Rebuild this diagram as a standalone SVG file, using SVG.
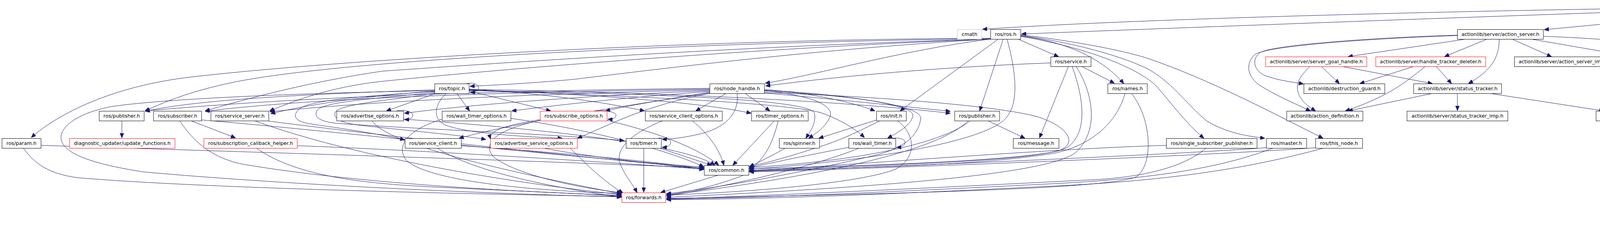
<svg xmlns="http://www.w3.org/2000/svg" width="5883" height="581" viewBox="0 0 5883 581">
<style>
.n rect{fill:#fff;stroke:#000;stroke-width:1}
.n.r rect{stroke:#f00}
.n.g rect{stroke:#bfbfbf}
.n.root rect{fill:#bfbfbf}
.n text{font-family:"DejaVu Sans","Liberation Sans",sans-serif;font-size:12.7px;text-anchor:middle;fill:#000}
#edges path{fill:none;stroke:#191970;stroke-width:1;marker-end:url(#a)}
</style>
<defs>
<marker id="a" markerUnits="userSpaceOnUse" markerWidth="12" markerHeight="10" viewBox="0 0 12 10" refX="12" refY="5" orient="auto">
<path d="M0,0 L12,5 L0,10 z" fill="#191970" stroke="#191970" stroke-width="1"/>
</marker>
</defs>
<rect width="5883" height="581" fill="#fff"/>
<g id="edges">
<path d="M4448,18 C3900,24 2950,45 2515,75"/>
<path d="M4448,21 C3900,38 3000,72 2615,87"/>
<path d="M4448,29 L3953,76"/>
<path d="M4559,31.5 L4559,74"/>
<path d="M4620,31.5 L4830,75"/>
<path d="M4671,30 C4800,42 5000,62 5112,75"/>
<path d="M4671,25 L5409,75"/>
<path d="M4559,100.5 L4559,144"/>
<path d="M4888,100.5 L4900,144"/>
<path d="M4963,100.5 L5232,144"/>
<path d="M5037,100.5 L5553,144"/>
<path d="M3750,100.5 L3451,145"/>
<path d="M3806,100.5 L3698,145"/>
<path d="M3838,100.5 C3838,150 3815,182 3759,214"/>
<path d="M3872,100.5 L3972,145"/>
<path d="M3922,100.5 L4180,145"/>
<path d="M3951,93 C4150,100 4330,120 4360,140 C4390,162 4392,200 4360,220 C4320,245 4270,265 4226,284"/>
<path d="M3731,90 C3520,96 3255,115 3225,135 C3203,152 3210,182 3240,194 C3272,206 3310,210 3337,215"/>
<path d="M3731,91 C3520,98 3240,117 3212,140 C3188,162 3192,197 3226,219 C3262,242 3312,264 3355,284"/>
<path d="M3353,170.5 C3328,195 3318,212 3322,232 C3327,255 3345,270 3368,284"/>
<path d="M3383,170.5 L3429,214"/>
<path d="M3438,170.5 L3667,214"/>
<path d="M3618,170.5 L3481,214"/>
<path d="M3648,170.5 C3605,205 3560,245 3444,284"/>
<path d="M3677,170.5 L3716,214"/>
<path d="M3665,239.5 L3451,284"/>
<path d="M3731,239.5 L3731,283"/>
<path d="M3817,239.5 L4106,284"/>
<path d="M4188,309.5 L4188,353"/>
<path d="M2536,98 C1800,100 900,150 490,197 C290,220 150,290 80,352"/>
<path d="M2536,99 C1800,108 900,150 600,210 C480,235 420,262 371,284"/>
<path d="M2536,100 C1900,118 1300,160 980,182 C800,208 640,250 525,284"/>
<path d="M2536,100 C2000,120 1350,170 980,208 C850,222 760,255 690,284"/>
<path d="M2536,100 C2100,125 1700,175 1470,203 C1350,214 1260,218 1203,221"/>
<path d="M2536,100 C2300,130 2100,190 1959,213"/>
<path d="M2555,100.5 L2304,284"/>
<path d="M2568,100.5 L2508,284"/>
<path d="M2578,100.5 C2600,180 2610,260 2577,300 C2530,360 2250,410 1918,433"/>
<path d="M2607,100.5 L2710,145"/>
<path d="M2613,92 C2750,110 2830,160 2877,214"/>
<path d="M2613,89 C2750,105 2880,130 2940,150 C3100,205 3260,290 3387,354"/>
<path d="M2613,91 C2760,110 2890,150 2945,180 C3010,220 3040,270 3090,310 C3140,340 3190,348 3238,354"/>
<path d="M2613,93 C2800,125 2920,180 2960,220 C3000,265 3035,315 3082,354"/>
<path d="M2690,161 C2400,172 2150,195 1960,220"/>
<path d="M2770,170.5 L2853,213"/>
<path d="M2735,170.5 L2661,353"/>
<path d="M2745,170.5 C2770,240 2790,335 2733,377 C2660,415 2250,422 1918,436"/>
<path d="M2755,170.5 C2800,240 2815,340 2750,393 C2680,440 2350,475 1706,505"/>
<path d="M2880,239.5 C2860,310 2800,370 2700,392 C2500,425 2200,428 1918,437"/>
<path d="M2897,239.5 C2945,300 2955,410 2913,450 C2870,482 2350,495 1706,508"/>
<path d="M2530,309.5 L2624,354"/>
<path d="M2483,309.5 C2440,345 2300,405 1918,429"/>
<path d="M2478,309.5 C2435,352 2300,425 1706,500"/>
<path d="M2244,307 L2096,354"/>
<path d="M2252,309.5 C2200,335 2160,356 2100,375 C2030,398 1960,418 1918,426"/>
<path d="M2298,309.5 C2340,340 2352,400 2293,433 C2200,470 1900,493 1706,499"/>
<path d="M2986,372 C2700,380 2200,420 1918,438"/>
<path d="M3087,379.5 C3040,420 2950,452 2800,460 C2400,480 2000,500 1706,509"/>
<path d="M3242,378 C3000,396 2300,426 1918,439"/>
<path d="M3258,379.5 C3150,420 3000,455 2700,470 C2300,490 2000,505 1706,510"/>
<path d="M3368,378 C3100,398 2300,430 1918,440"/>
<path d="M3387,379.5 C3200,430 3000,462 2700,476 C2300,496 2000,509 1706,511"/>
<path d="M1858,239.5 L1781,284"/>
<path d="M1887,239.5 C1892,280 1870,320 1803,340 C1765,350 1730,355 1695,357"/>
<path d="M1908,239.5 L1971,284"/>
<path d="M1957,229 C2100,240 2200,268 2240,284"/>
<path d="M1957,232 C2080,245 2135,270 2125,298 C2116,322 2092,340 2070,354"/>
<path d="M1957,231 C2150,240 2340,268 2337,295 C2334,320 2300,338 2272,354"/>
<path d="M1957,238 C2150,255 2350,276 2433,285"/>
<path d="M1817,226 C1300,232 800,245 371,284"/>
<path d="M1817,228 C1300,236 800,250 525,285"/>
<path d="M1817,230 C1400,240 1000,255 691,286"/>
<path d="M1817,232 C1500,245 1200,268 1035,290"/>
<path d="M1817,234 C1600,250 1450,266 1310,284"/>
<path d="M1817,236 C1700,255 1600,272 1550,284"/>
<path d="M1817,238 C1600,270 1300,318 1175,354"/>
<path d="M1817,239 C1650,270 1560,320 1478,354"/>
<path d="M1957,237 C2200,245 2550,268 2660,300 C2745,330 2755,370 2710,386 C2600,412 2200,425 1918,432"/>
<path d="M1957,233 C2200,245 2365,272 2357,305 C2350,345 2320,375 2250,395 C2100,432 1850,480 1706,496"/>
<path d="M1193,214.5 C1215,209 1226,218 1225,226 C1224,233 1218,236 1204,237"/>
<path d="M1113,240 L989,284"/>
<path d="M1170,239.5 L1202,284"/>
<path d="M1201,233 L1410,284"/>
<path d="M1142,239.5 C1110,270 1108,305 1140,320 C1200,343 1350,350 1440,354"/>
<path d="M1113,230 C800,240 500,255 372,285"/>
<path d="M1113,233 C950,245 800,265 693,291"/>
<path d="M1201,228 C1400,240 1550,262 1650,284"/>
<path d="M1201,230 C1500,240 1800,262 1923,290"/>
<path d="M1201,229 C1700,235 2200,262 2433,290"/>
<path d="M1201,231 C1600,245 2000,262 2100,288 C2150,305 2190,330 2213,352"/>
<path d="M1201,232 C1700,240 2075,255 2085,290 C2090,315 2075,335 2063,354"/>
<path d="M1113,234 C950,245 790,255 765,280 C745,300 760,312 800,318 C900,332 980,345 1036,358"/>
<path d="M1113,236 C1000,250 830,258 812,282 C800,302 825,312 865,316 C1100,332 1450,345 1598,360"/>
<path d="M1113,238 C1050,252 865,264 858,288 C852,306 880,316 925,321 C1050,335 1180,346 1244,357"/>
<path d="M1113,232 C800,238 450,250 290,272 C190,290 150,330 157,358 C165,395 240,420 367,440 C700,470 1200,495 1592,504"/>
<path d="M312,309.5 L312,353"/>
<path d="M105,372 C600,388 1400,412 1802,430"/>
<path d="M60,379.5 C90,420 125,445 200,455 C500,480 1100,495 1591,503"/>
<path d="M490,309.5 L603,353"/>
<path d="M516,307 C800,330 1400,398 1802,428"/>
<path d="M460,309.5 C485,345 525,400 620,420 C900,468 1300,490 1591,500"/>
<path d="M688,310 C1000,350 1500,404 1802,431"/>
<path d="M653,309.5 C900,400 1300,468 1591,498"/>
<path d="M761,373 C1100,385 1600,418 1802,433"/>
<path d="M657,379.5 C750,445 900,468 1100,478 C1300,488 1500,496 1591,502"/>
<path d="M1033,305 C1400,330 1760,372 1830,423"/>
<path d="M953,309.5 C990,370 1300,440 1591,496"/>
<path d="M1013,284.5 C1040,279 1058,288 1057,295 C1056,302 1050,306 1035,306"/>
<path d="M1308,303 C1500,330 1700,380 1802,427"/>
<path d="M1132,305 C1050,330 1010,370 1040,410 C1100,468 1400,490 1591,495"/>
<path d="M1553,308 C1650,330 1780,372 1840,423"/>
<path d="M1383,308 C1280,330 1232,362 1262,400 C1320,450 1500,484 1592,493"/>
<path d="M1383,306 C1310,318 1248,332 1256,356"/>
<path d="M1520,284.5 C1550,279 1578,288 1577,295 C1576,302 1570,306 1556,305"/>
<path d="M1773,309.5 C1810,340 1842,380 1853,423"/>
<path d="M1695,309.5 C1620,340 1572,380 1588,420 C1600,450 1620,472 1631,493"/>
<path d="M1982,309.5 L1876,423"/>
<path d="M1992,309.5 C1980,360 1960,412 1900,450 C1820,480 1750,494 1706,498"/>
<path d="M1181,373 C1400,388 1650,410 1802,432"/>
<path d="M1120,379.5 C1200,430 1350,470 1591,505"/>
<path d="M1393,379.5 C1500,400 1650,416 1802,434"/>
<path d="M1460,379.5 C1500,420 1550,468 1595,494"/>
<path d="M1683,354.5 C1705,350 1718,358 1717,365 C1716,372 1710,377 1695,377"/>
<path d="M1690,379.5 L1822,423"/>
<path d="M1648,379.5 L1648,492"/>
<path d="M2010,379.5 C1980,396 1950,412 1918,427"/>
<path d="M2280,354.5 C2305,350 2318,358 2317,365 C2316,372 2310,377 2295,377"/>
<path d="M2173,377 C2080,395 1980,415 1918,430"/>
<path d="M2198,379.5 C2100,420 1900,470 1706,502"/>
<path d="M1838,448.5 L1691,493"/>
</g>
<g id="n-root" class="n root"><rect x="4448" y="6.5" width="223" height="25"/><text x="4559.5" y="23">single_joint_position_action.cpp</text></g>
<g id="n-cmath" class="n g"><rect x="2451" y="75.5" width="62" height="25"/><text x="2482" y="92">cmath</text></g>
<g id="n-ros" class="n"><rect x="2536" y="75.5" width="77" height="25"/><text x="2574.5" y="92">ros/ros.h</text></g>
<g id="n-as" class="n"><rect x="3731" y="75.5" width="220" height="25"/><text x="3841" y="92">actionlib/server/action_server.h</text></g>
<g id="n-jt" class="n"><rect x="4445" y="75.5" width="227" height="25"/><text x="4558.5" y="92">trajectory_msgs/JointTrajectory.h</text></g>
<g id="n-sjpa" class="n"><rect x="4719" y="75.5" width="330" height="25"/><text x="4884" y="92">pr2_controllers_msgs/SingleJointPositionAction.h</text></g>
<g id="n-qts" class="n"><rect x="5073" y="75.5" width="308" height="25"/><text x="5227" y="92">pr2_controllers_msgs/QueryTrajectoryState.h</text></g>
<g id="n-jtcs" class="n"><rect x="5403" y="75.5" width="361" height="25"/><text x="5583.5" y="92">pr2_controllers_msgs/JointTrajectoryControllerState.h</text></g>
<g id="n-srv" class="n"><rect x="2690" y="145.5" width="103" height="25"/><text x="2741.5" y="162">ros/service.h</text></g>
<g id="n-sgh" class="n r"><rect x="3240" y="145.5" width="259" height="25"/><text x="3369.5" y="162">actionlib/server/server_goal_handle.h</text></g>
<g id="n-htd" class="n r"><rect x="3522" y="145.5" width="281" height="25"/><text x="3662.5" y="162">actionlib/server/handle_tracker_deleter.h</text></g>
<g id="n-asi" class="n"><rect x="3877" y="145.5" width="252" height="25"/><text x="4003" y="162">actionlib/server/action_server_imp.h</text></g>
<g id="n-ed" class="n"><rect x="4152" y="145.5" width="204" height="25"/><text x="4254" y="162">actionlib/enclosure_deleter.h</text></g>
<g id="n-jtp" class="n"><rect x="4429" y="145.5" width="260" height="25"/><text x="4559" y="162">trajectory_msgs/JointTrajectoryPoint.h</text></g>
<g id="n-fb" class="n r"><rect x="4711" y="145.5" width="392" height="25"/><text x="4907" y="162">pr2_controllers_msgs/SingleJointPositionActionFeedback.h</text></g>
<g id="n-goal" class="n r"><rect x="5125" y="145.5" width="360" height="25"/><text x="5305" y="162">pr2_controllers_msgs/SingleJointPositionActionGoal.h</text></g>
<g id="n-res" class="n r"><rect x="5509" y="145.5" width="368" height="25"/><text x="5693" y="162">pr2_controllers_msgs/SingleJointPositionActionResult.h</text></g>
<g id="n-topic" class="n"><rect x="1113" y="214.5" width="88" height="25"/><text x="1157" y="231">ros/topic.h</text></g>
<g id="n-nh" class="n"><rect x="1817" y="214.5" width="140" height="25"/><text x="1887" y="231">ros/node_handle.h</text></g>
<g id="n-names" class="n"><rect x="2836" y="214.5" width="101" height="25"/><text x="2886.5" y="231">ros/names.h</text></g>
<g id="n-dg" class="n"><rect x="3338" y="214.5" width="207" height="25"/><text x="3441.5" y="231">actionlib/destruction_guard.h</text></g>
<g id="n-st" class="n"><rect x="3619" y="214.5" width="225" height="25"/><text x="3731.5" y="231">actionlib/server/status_tracker.h</text></g>
<g id="n-puba" class="n"><rect x="254" y="284.5" width="115" height="25"/><text x="311.5" y="301">ros/publisher.h</text></g>
<g id="n-sub" class="n"><rect x="393" y="284.5" width="123" height="25"/><text x="454.5" y="301">ros/subscriber.h</text></g>
<g id="n-ss" class="n"><rect x="540" y="284.5" width="148" height="25"/><text x="614" y="301">ros/service_server.h</text></g>
<g id="n-ao" class="n"><rect x="862" y="284.5" width="171" height="25"/><text x="947.5" y="301">ros/advertise_options.h</text></g>
<g id="n-wto" class="n"><rect x="1132" y="284.5" width="176" height="25"/><text x="1220" y="301">ros/wall_timer_options.h</text></g>
<g id="n-so" class="n r"><rect x="1383" y="284.5" width="171" height="25"/><text x="1468.5" y="301">ros/subscribe_options.h</text></g>
<g id="n-sco" class="n"><rect x="1652" y="284.5" width="197" height="25"/><text x="1750.5" y="301">ros/service_client_options.h</text></g>
<g id="n-to" class="n"><rect x="1924" y="284.5" width="145" height="25"/><text x="1996.5" y="301">ros/timer_options.h</text></g>
<g id="n-init" class="n"><rect x="2244" y="284.5" width="76" height="25"/><text x="2282" y="301">ros/init.h</text></g>
<g id="n-pubb" class="n"><rect x="2444" y="284.5" width="115" height="25"/><text x="2501.5" y="301">ros/publisher.h</text></g>
<g id="n-ad" class="n"><rect x="3294" y="284.5" width="195" height="25"/><text x="3391.5" y="301">actionlib/action_definition.h</text></g>
<g id="n-sti" class="n"><rect x="3602" y="284.5" width="258" height="25"/><text x="3731" y="301">actionlib/server/status_tracker_imp.h</text></g>
<g id="n-gig" class="n"><rect x="4086" y="284.5" width="205" height="25"/><text x="4188.5" y="301">actionlib/goal_id_generator.h</text></g>
<g id="n-param" class="n"><rect x="5" y="354.5" width="100" height="25"/><text x="55" y="371">ros/param.h</text></g>
<g id="n-uf" class="n r"><rect x="178" y="354.5" width="270" height="25"/><text x="313" y="371">diagnostic_updater/update_functions.h</text></g>
<g id="n-sch" class="n r"><rect x="522" y="354.5" width="239" height="25"/><text x="641.5" y="371">ros/subscription_callback_helper.h</text></g>
<g id="n-sc" class="n"><rect x="1037" y="354.5" width="144" height="25"/><text x="1109" y="371">ros/service_client.h</text></g>
<g id="n-aso" class="n r"><rect x="1256" y="354.5" width="222" height="25"/><text x="1367" y="371">ros/advertise_service_options.h</text></g>
<g id="n-timer" class="n"><rect x="1603" y="354.5" width="90" height="25"/><text x="1648" y="371">ros/timer.h</text></g>
<g id="n-spin" class="n"><rect x="1995" y="354.5" width="103" height="25"/><text x="2046.5" y="371">ros/spinner.h</text></g>
<g id="n-wt" class="n"><rect x="2173" y="354.5" width="120" height="25"/><text x="2233" y="371">ros/wall_timer.h</text></g>
<g id="n-msg" class="n"><rect x="2594" y="354.5" width="117" height="25"/><text x="2652.5" y="371">ros/message.h</text></g>
<g id="n-ssp" class="n"><rect x="2986" y="354.5" width="232" height="25"/><text x="3102" y="371">ros/single_subscriber_publisher.h</text></g>
<g id="n-master" class="n"><rect x="3242" y="354.5" width="103" height="25"/><text x="3293.5" y="371">ros/master.h</text></g>
<g id="n-tn" class="n"><rect x="3368" y="354.5" width="120" height="25"/><text x="3428" y="371">ros/this_node.h</text></g>
<g id="n-decl" class="n"><rect x="4130" y="354.5" width="117" height="25"/><text x="4188.5" y="371">actionlib/decl.h</text></g>
<g id="n-common" class="n"><rect x="1803" y="423.5" width="114" height="25"/><text x="1860" y="440">ros/common.h</text></g>
<g id="n-fwd" class="n r"><rect x="1592" y="493.5" width="112" height="25"/><text x="1648" y="510">ros/forwards.h</text></g>
</svg>
